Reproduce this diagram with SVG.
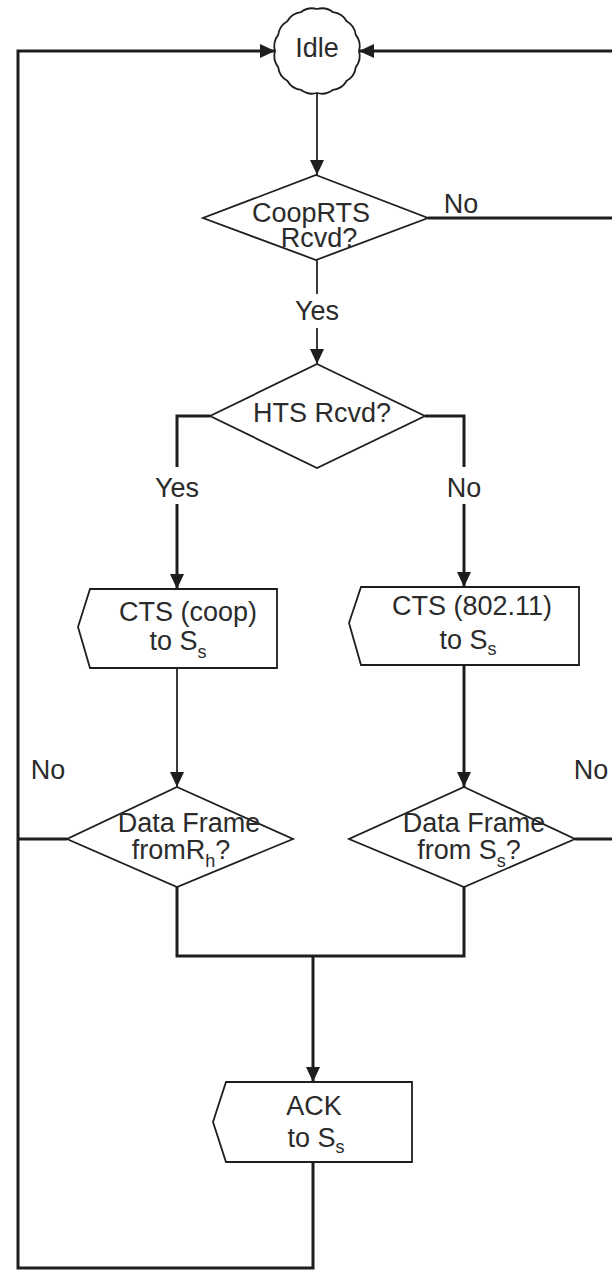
<svg xmlns="http://www.w3.org/2000/svg" width="612" height="1270" viewBox="0 0 612 1270">
  <style>
    .shape { fill: #ffffff; stroke: #1e1e1e; stroke-width: 1.8; stroke-linejoin: miter; }
    .wire { fill: none; stroke: #1e1e1e; stroke-width: 3; stroke-linejoin: miter; }
    .wire-thin { fill: none; stroke: #3a3a3a; stroke-width: 2; }
    .label { font-family: "Liberation Sans", Arial, Helvetica, sans-serif; font-size: 27px; fill: #2b2b2b; text-anchor: middle; }
    .sub { font-size: 18px; }
  </style>
  <defs>
    <marker id="arrow" markerUnits="userSpaceOnUse" markerWidth="16" markerHeight="16" refX="15" refY="7" orient="auto">
      <path d="M0,0 L15,7 L0,14 Z" fill="#1e1e1e"/>
    </marker>
  </defs>

  <rect x="0" y="0" width="612" height="1270" fill="#ffffff"/>

  <!-- connectors -->
  <g id="connectors">
    <!-- Idle to CoopRTS decision -->
    <path class="wire-thin" d="M317,93 V175" marker-end="url(#arrow)"/>
    <!-- CoopRTS No: back to Idle from the right -->
    <path class="wire" d="M428,218 H616 V51 H359" marker-end="url(#arrow)"/>
    <!-- CoopRTS Yes -->
    <path class="wire-thin" d="M317,260 V294"/>
    <path class="wire-thin" d="M317,328 V364" marker-end="url(#arrow)"/>
    <!-- HTS Yes -->
    <path class="wire" d="M210,416 H177 V467"/>
    <path class="wire" d="M177,504 V589" marker-end="url(#arrow)"/>
    <!-- HTS No -->
    <path class="wire" d="M425,416 H464 V467"/>
    <path class="wire" d="M464,504 V587" marker-end="url(#arrow)"/>
    <!-- CTS boxes to data frame decisions -->
    <path class="wire-thin" d="M177,668 V787" marker-end="url(#arrow)"/>
    <path class="wire" d="M464,665 V787" marker-end="url(#arrow)"/>
    <!-- Data frame No branches -->
    <path class="wire" d="M67,839 H18"/>
    <path class="wire" d="M575,839 H616"/>
    <!-- Data frame Yes branches merge into ACK -->
    <path class="wire" d="M177,887 V956 H464 V887"/>
    <path class="wire" d="M313,956 V1082" marker-end="url(#arrow)"/>
    <!-- ACK back to Idle around the left side -->
    <path class="wire" d="M313,1162 V1268 H18 V51 H275" marker-end="url(#arrow)"/>
  </g>

  <!-- Idle state: scalloped circle -->
  <g id="idle">
    <path class="shape" d="M359,51 A18,18 0 0 1 355.8,67.07 A18,18 0 0 1 346.7,80.7 A18,18 0 0 1 333.07,89.8 A18,18 0 0 1 317,93 A18,18 0 0 1 300.93,89.8 A18,18 0 0 1 287.3,80.7 A18,18 0 0 1 278.2,67.07 A18,18 0 0 1 275,51 A18,18 0 0 1 278.2,34.93 A18,18 0 0 1 287.3,21.3 A18,18 0 0 1 300.93,12.2 A18,18 0 0 1 317,9 A18,18 0 0 1 333.07,12.2 A18,18 0 0 1 346.7,21.3 A18,18 0 0 1 355.8,34.93 A18,18 0 0 1 359,51 Z"/>
    <text class="label" x="317" y="57">Idle</text>
  </g>

  <!-- CoopRTS decision -->
  <g id="coop-rts">
    <polygon class="shape" points="316,175 428,218 316,260 203,218"/>
    <text class="label" x="311" y="222">CoopRTS</text>
    <text class="label" x="319" y="247">Rcvd?</text>
  </g>

  <!-- HTS decision -->
  <g id="hts">
    <polygon class="shape" points="317,364 425,416 317,468 210,416"/>
    <text class="label" x="322" y="422">HTS Rcvd?</text>
  </g>

  <!-- CTS (coop) output -->
  <g id="cts-coop">
    <polygon class="shape" points="90,589 277,589 277,668 90,668 78,627"/>
    <text class="label" x="188" y="621">CTS (coop)</text>
    <text class="label" x="178" y="650">to S<tspan class="sub" dy="8">s</tspan></text>
  </g>

  <!-- CTS (802.11) output -->
  <g id="cts-80211">
    <polygon class="shape" points="361,587 579,587 579,665 361,665 349,623"/>
    <text class="label" x="472" y="615">CTS (802.11)</text>
    <text class="label" x="468" y="649">to S<tspan class="sub" dy="6">s</tspan></text>
  </g>

  <!-- Data frame from Rh decision -->
  <g id="data-rh">
    <polygon class="shape" points="177,787 293,839 177,887 67,839"/>
    <text class="label" x="189" y="832">Data Frame</text>
    <text class="label" x="181" y="859">fromR<tspan class="sub" dy="8">h</tspan><tspan dy="-8">?</tspan></text>
  </g>

  <!-- Data frame from Ss decision -->
  <g id="data-ss">
    <polygon class="shape" points="464,787 575,839 464,887 349,839"/>
    <text class="label" x="474" y="832">Data Frame</text>
    <text class="label" x="469" y="859">from S<tspan class="sub" dy="8">s</tspan><tspan dy="-8">?</tspan></text>
  </g>

  <!-- ACK output -->
  <g id="ack">
    <polygon class="shape" points="226,1082 412,1082 412,1162 226,1162 213,1122"/>
    <text class="label" x="314" y="1115">ACK</text>
    <text class="label" x="316" y="1147">to S<tspan class="sub" dy="6">s</tspan></text>
  </g>

  <!-- branch labels -->
  <g id="branch-labels">
    <text class="label" x="461" y="213">No</text>
    <text class="label" x="317" y="320">Yes</text>
    <text class="label" x="177" y="497">Yes</text>
    <text class="label" x="464" y="497">No</text>
    <text class="label" x="48" y="779">No</text>
    <text class="label" x="591" y="779">No</text>
  </g>
</svg>
